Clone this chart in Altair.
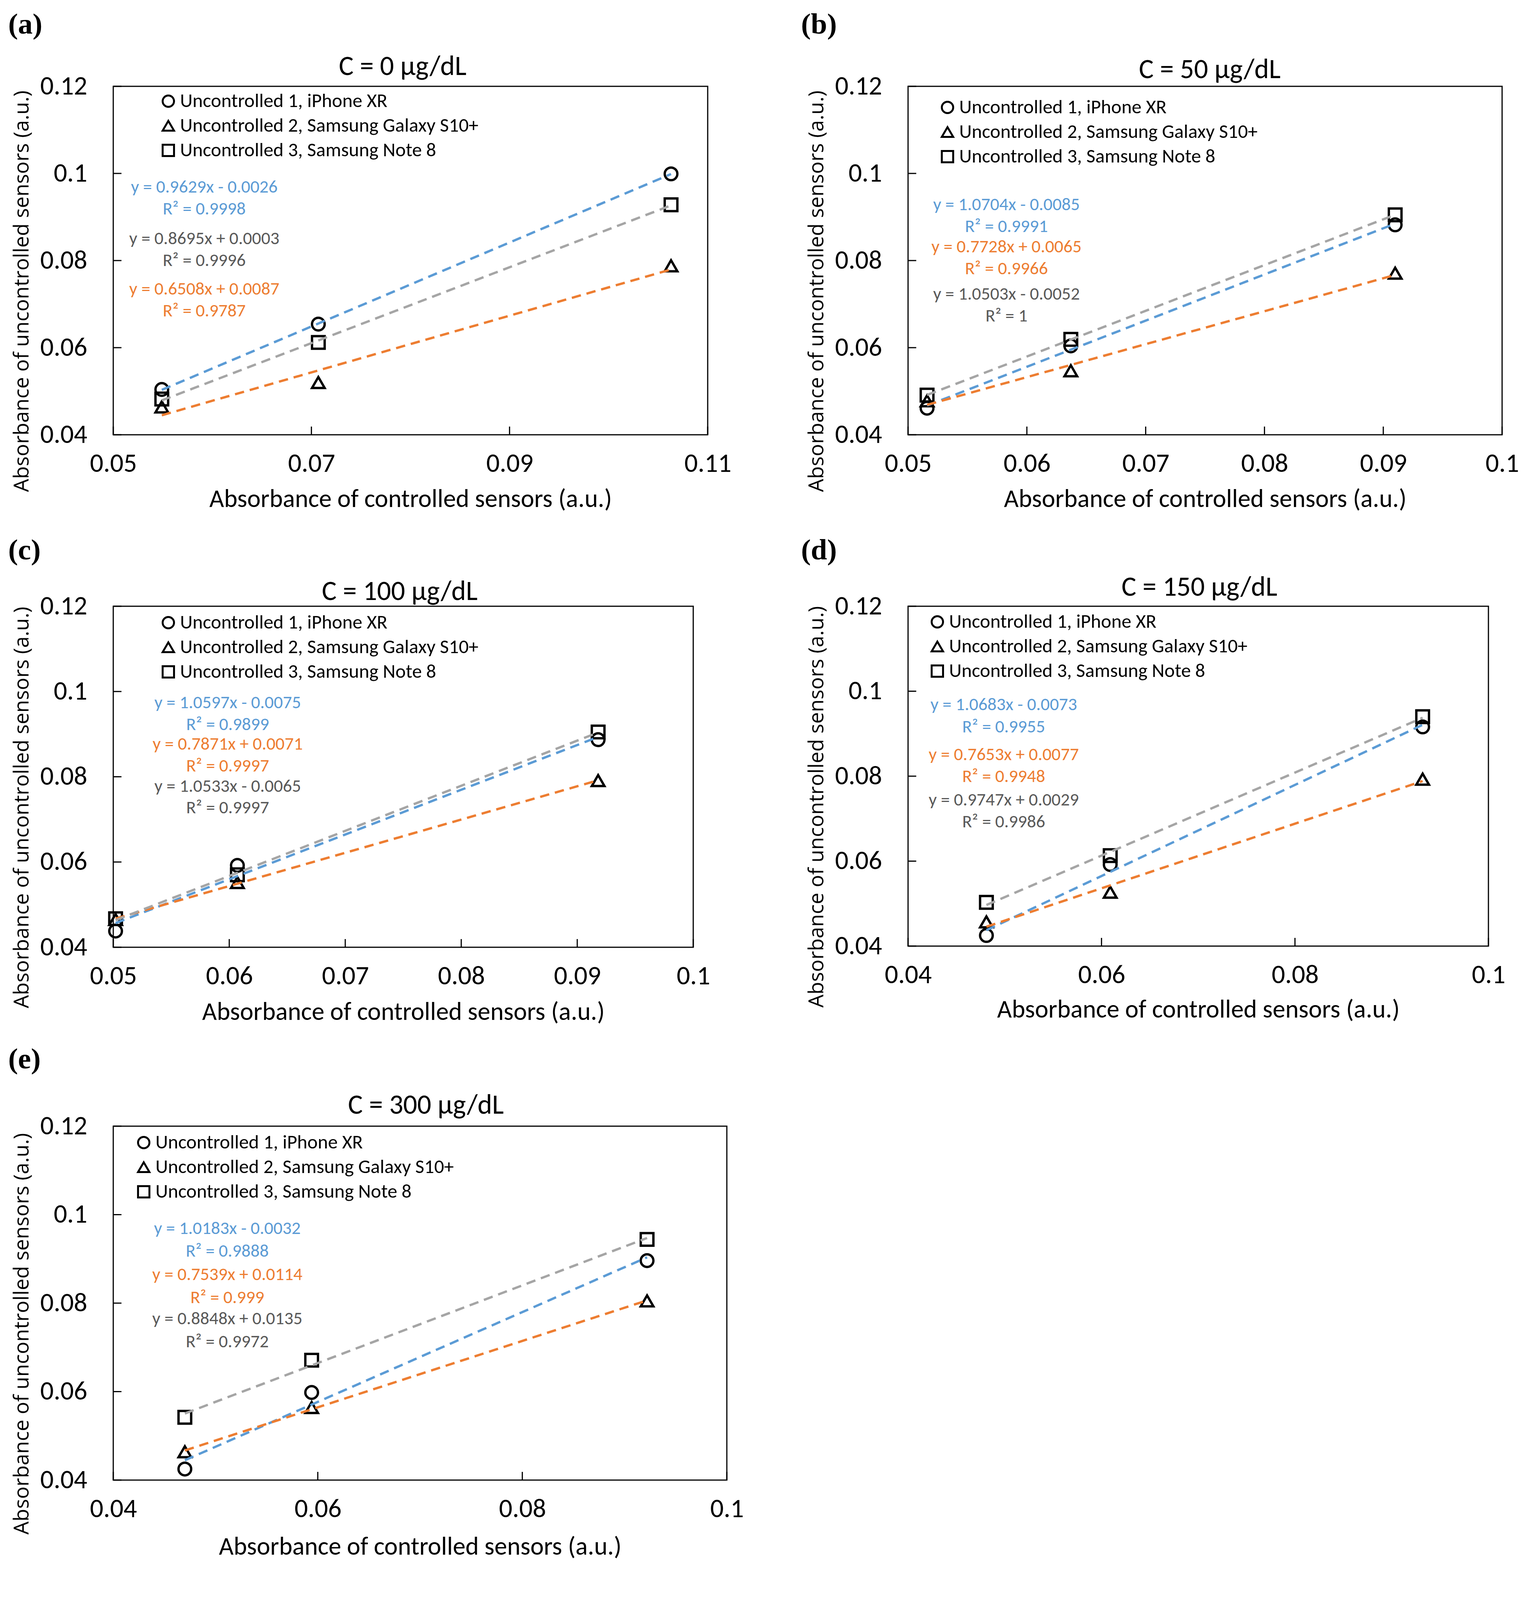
import altair as alt
import pandas as pd

# ---------------- data ----------------
SERIES = ["Uncontrolled 1, iPhone XR",
          "Uncontrolled 2, Samsung Galaxy S10+",
          "Uncontrolled 3, Samsung Note 8"]
SHAPES = ["circle", "triangle-up", "square"]
LINE_COLORS = ["#5B9BD5", "#ED7D31", "#A5A5A5"]
TEXT_COLORS = ["#5B9BD5", "#ED7D31", "#595959"]

X_TITLE = "Absorbance of controlled sensors (a.u.)"
Y_TITLE = "Absorbance of uncontrolled sensors (a.u.)"
Y_TICKS = [0.04, 0.06, 0.08, 0.1, 0.12]

A_TAG, A_TITLE = "(a)", "C = 0 μg/dL"
A_X = [0.0549, 0.0707, 0.1063]
A_U1 = [0.0504, 0.0654, 0.0999]
A_U2 = [0.0464, 0.0520, 0.0788]
A_U3 = [0.0482, 0.0612, 0.0928]
A_EQ = ["y = 0.9629x - 0.0026", "y = 0.6508x + 0.0087", "y = 0.8695x + 0.0003"]
A_R2 = ["R² = 0.9998", "R² = 0.9787", "R² = 0.9996"]
A_XTICKS = [0.05, 0.07, 0.09, 0.11]

B_TAG, B_TITLE = "(b)", "C = 50 μg/dL"
B_X = [0.0516, 0.0637, 0.0910]
B_U1 = [0.0461, 0.0604, 0.0882]
B_U2 = [0.0478, 0.0547, 0.0771]
B_U3 = [0.0491, 0.0619, 0.0905]
B_EQ = ["y = 1.0704x - 0.0085", "y = 0.7728x + 0.0065", "y = 1.0503x - 0.0052"]
B_R2 = ["R² = 0.9991", "R² = 0.9966", "R² = 1"]
B_XTICKS = [0.05, 0.06, 0.07, 0.08, 0.09, 0.1]

C_TAG, C_TITLE = "(c)", "C = 100 μg/dL"
C_X = [0.0502, 0.0607, 0.0918]
C_U1 = [0.0438, 0.0592, 0.0887]
C_U2 = [0.0465, 0.0552, 0.0791]
C_U3 = [0.0467, 0.0570, 0.0905]
C_EQ = ["y = 1.0597x - 0.0075", "y = 0.7871x + 0.0071", "y = 1.0533x - 0.0065"]
C_R2 = ["R² = 0.9899", "R² = 0.9997", "R² = 0.9997"]
C_XTICKS = [0.05, 0.06, 0.07, 0.08, 0.09, 0.1]

D_TAG, D_TITLE = "(d)", "C = 150 μg/dL"
D_X = [0.0481, 0.0609, 0.0932]
D_U1 = [0.0425, 0.0592, 0.0916]
D_U2 = [0.0457, 0.0527, 0.0793]
D_U3 = [0.0503, 0.0613, 0.0940]
D_EQ = ["y = 1.0683x - 0.0073", "y = 0.7653x + 0.0077", "y = 0.9747x + 0.0029"]
D_R2 = ["R² = 0.9955", "R² = 0.9948", "R² = 0.9986"]
D_XTICKS = [0.04, 0.06, 0.08, 0.1]

E_TAG, E_TITLE = "(e)", "C = 300 μg/dL"
E_X = [0.0470, 0.0594, 0.0922]
E_U1 = [0.0425, 0.0598, 0.0896]
E_U2 = [0.0464, 0.0564, 0.0805]
E_U3 = [0.0542, 0.0671, 0.0944]
E_EQ = ["y = 1.0183x - 0.0032", "y = 0.7539x + 0.0114", "y = 0.8848x + 0.0135"]
E_R2 = ["R² = 0.9888", "R² = 0.999", "R² = 0.9972"]
E_XTICKS = [0.04, 0.06, 0.08, 0.1]

# ---------------- styling ----------------
FONT = "Carlito, Liberation Sans Narrow, Lato, Liberation Sans, sans-serif"
YFONT = "Open Sans, DejaVu Sans, sans-serif"
SERIF = "Liberation Serif, DejaVu Serif, serif"
F_TICK, F_XT, F_YT, F_TITLE, F_EQ, F_LEG, F_TAG = 68, 65, 53, 71, 46, 50, 75


def panel(tag, title, xs, u1, u2, u3, eqs, r2s, xdom, xticks, lay):
    W, H = lay["W"], lay["H"]
    df = pd.DataFrame({
        "x": list(xs) * 3,
        "y": list(u1) + list(u2) + list(u3),
        "series": [s for s in SERIES for _ in range(3)],
    })
    xsc = alt.Scale(domain=xdom, nice=False, zero=False)
    ysc = alt.Scale(domain=[0.04, 0.12], nice=False, zero=False)
    xax = alt.Axis(values=xticks, format=".2~g", ticks=False, tickSize=0, domain=False, grid=False,
                   labelFont=FONT, labelFontSize=F_TICK, labelColor="black", labelPadding=74,
                   labelBaseline="middle", labelFlush=False, labelOverlap=False, labelBound=False,
                   labelLimit=0,
                   title=X_TITLE, titleFont=FONT, titleFontSize=F_XT, titleFontWeight="normal",
                   titleColor="black", titleX=W / 2, titleY=lay["xty"], titleBaseline="middle",
                   titleAlign="center", titleLimit=0)
    yax = alt.Axis(values=Y_TICKS, format=".2~g", ticks=False, tickSize=0, domain=False, grid=False,
                   labelFont=FONT, labelFontSize=F_TICK, labelColor="black", labelPadding=67,
                   labelBaseline="middle", labelFlush=False, labelOverlap=False, labelBound=False,
                   labelLimit=0,
                   title=Y_TITLE, titleFont=YFONT, titleFontSize=F_YT, titleFontWeight="normal",
                   titleColor="black", titleX=-234, titleY=H / 2 + 78, titleAngle=270,
                   titleBaseline="middle", titleAlign="center", titleLimit=0)
    xe = alt.X("x:Q", scale=xsc, axis=xax)
    ye = alt.Y("y:Q", scale=ysc, axis=yax)

    lx, ly = lay["leg"]
    pts = alt.Chart(df).mark_point(filled=False, color="black", strokeWidth=6, size=1050, opacity=1).encode(
        x=xe, y=ye,
        shape=alt.Shape("series:N", scale=alt.Scale(domain=SERIES, range=SHAPES),
                        legend=alt.Legend(title=None, orient="none", legendX=lx - 22, legendY=ly - 22,
                                          direction="vertical", labelFont=FONT, labelFontSize=F_LEG,
                                          labelColor="black", labelLimit=0, symbolSize=850,
                                          symbolStrokeWidth=5, symbolStrokeColor="black",
                                          symbolFillColor="transparent", rowPadding=13,
                                          labelOffset=5, padding=0)))
    layers = [pts]
    # one dashed linear trendline per series, fitted by the library
    for i, s in enumerate(SERIES):
        layers.append(
            alt.Chart(df).transform_filter(alt.datum.series == s).transform_regression("x", "y")
            .mark_line(color=LINE_COLORS[i], strokeWidth=6, strokeDash=[24, 15])
            .encode(x=xe, y=ye))
    xt = alt.Chart(pd.DataFrame({"x": xticks})).mark_rule(color="black", strokeWidth=3).encode(
        x=xe, y=alt.value(H), y2=alt.value(H - 21))
    yt = alt.Chart(pd.DataFrame({"y": Y_TICKS})).mark_rule(color="black", strokeWidth=3).encode(
        y=ye, x=alt.value(0), x2=alt.value(21))
    layers += [xt, yt]

    for i in range(3):
        for txt, ypos in zip([eqs[i], r2s[i]], lay["rows"][i]):
            layers.append(
                alt.Chart(pd.DataFrame({"t": [txt]})).mark_text(
                    font=FONT, fontSize=F_EQ, color=TEXT_COLORS[i], align="center", baseline="middle"
                ).encode(text="t:N", x=alt.value(lay["eqx"]), y=alt.value(ypos)))
    # panel title
    layers.append(
        alt.Chart(pd.DataFrame({"t": [title]})).mark_text(
            font=FONT, fontSize=F_TITLE, color="black", align="center", baseline="middle"
        ).encode(text="t:N", x=alt.value(W / 2 + lay["tdx"]), y=alt.value(-lay["tdy"])))
    # panel tag
    layers.append(
        alt.Chart(pd.DataFrame({"t": [tag]})).mark_text(
            font=SERIF, fontSize=F_TAG, fontWeight="bold", color="black", align="left", baseline="middle"
        ).encode(text="t:N", x=alt.value(lay["tag"][0]), y=alt.value(lay["tag"][1])))
    return alt.layer(*layers).properties(width=W, height=H)


LAY_A = dict(W=1522, H=892, xty=164, leg=(138, 35), eqx=233,
             rows=[(258, 314), (519, 575), (390, 446)], tdx=-20, tdy=50, tag=(-269, -158))
LAY_B = dict(W=1521, H=892, xty=164, leg=(98, 51), eqx=252,
             rows=[(303, 359), (411, 467), (532, 588)], tdx=12, tdy=42, tag=(-274, -158))
LAY_C = dict(W=1485, H=873, xty=165, leg=(138, 39), eqx=293,
             rows=[(247, 303), (353, 409), (461, 516)], tdx=-9, tdy=37, tag=(-269, -143))
LAY_D = dict(W=1486, H=870, xty=162, leg=(72, 37), eqx=245,
             rows=[(252, 309), (380, 436), (496, 552)], tdx=3, tdy=48, tag=(-274, -143))
LAY_E = dict(W=1571, H=906, xty=170, leg=(75, 39), eqx=292,
             rows=[(262, 320), (380, 439), (493, 552)], tdx=15, tdy=53, tag=(-269, -171))

pa = panel(A_TAG, A_TITLE, A_X, A_U1, A_U2, A_U3, A_EQ, A_R2, [0.05, 0.11], A_XTICKS, LAY_A)
pb = panel(B_TAG, B_TITLE, B_X, B_U1, B_U2, B_U3, B_EQ, B_R2, [0.05, 0.1], B_XTICKS, LAY_B)
pc = panel(C_TAG, C_TITLE, C_X, C_U1, C_U2, C_U3, C_EQ, C_R2, [0.05, 0.1], C_XTICKS, LAY_C)
pd_ = panel(D_TAG, D_TITLE, D_X, D_U1, D_U2, D_U3, D_EQ, D_R2, [0.04, 0.1], D_XTICKS, LAY_D)
pe = panel(E_TAG, E_TITLE, E_X, E_U1, E_U2, E_U3, E_EQ, E_R2, [0.04, 0.1], E_XTICKS, LAY_E)

chart = alt.concat(pa, pb, pc, pd_, pe, columns=2, spacing={"row": 425, "column": 464},
                   bounds="flush", align="all").resolve_scale(
    shape="independent"
).resolve_legend(shape="independent").properties(
    padding={"left": 11, "top": 16, "right": 5, "bottom": 30}, background="white"
).configure_view(stroke="black", strokeWidth=3)

chart.save("out.html", embed_options={"renderer": "svg", "actions": False})
